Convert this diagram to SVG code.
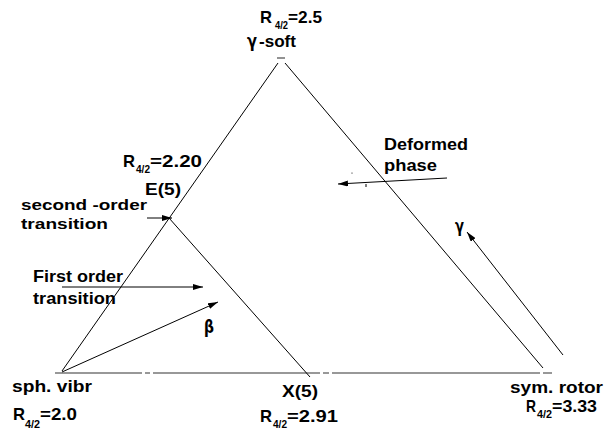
<svg xmlns="http://www.w3.org/2000/svg" width="605" height="431" viewBox="0 0 605 431">
<style>
text{font-family:"Liberation Sans",Arial,sans-serif;font-weight:bold;fill:#000;font-size:17px}
.sub{font-size:10px}
.sm{font-size:15.5px}
.gr{font-family:"DejaVu Sans","Liberation Sans",sans-serif}
.ln{stroke:#000;stroke-width:1;fill:none}
.base{stroke:#777;stroke-width:1.6;fill:none}
.arr{stroke:#000;stroke-width:1;fill:none;marker-end:url(#ah)}
</style>
<defs>
<marker id="ah" viewBox="0 0 10 6" refX="10" refY="3" markerWidth="10" markerHeight="6" markerUnits="userSpaceOnUse" orient="auto">
<path d="M0,0 L10,3 L0,6 Z" fill="#000"/>
</marker>
</defs>
<rect width="605" height="431" fill="#fff"/>
<g id="connectors">
<path class="base" d="M55,373H142 M145,373H150 M153,373H320 M323,373H329 M332,373H540 M543,373H552"/>
<path class="base" d="M277,58H285"/>
<path class="ln" d="M62,371 L278,63"/>
<path class="ln" d="M285,63 L543,368"/>
<path class="ln" d="M169,218 L310,377"/>
<path class="arr" d="M147,218 L172,218"/>
<path class="arr" d="M62,287 L203,287"/>
<path class="arr" d="M62,372 L218,302"/>
<path class="arr" d="M447,178 L338,184"/>
<path class="arr" d="M563,355 L467,232"/>
<path class="ln" d="M366,184V187"/>
<circle cx="352" cy="173" r="0.6" fill="#000"/>
<text class="gr" x="204" y="333" font-size="15" textLength="10" lengthAdjust="spacingAndGlyphs">β</text>
<text class="gr" x="455" y="232" font-size="14" textLength="9" lengthAdjust="spacingAndGlyphs">γ</text>
</g>
<g id="gamma-soft">
<text x="260" y="23" textLength="12" lengthAdjust="spacingAndGlyphs">R</text>
<text class="sub" x="275" y="29" textLength="13" lengthAdjust="spacingAndGlyphs">4/2</text>
<text x="288" y="23" textLength="34" lengthAdjust="spacingAndGlyphs">=2.5</text>
<text class="gr" x="247" y="47" font-size="16" textLength="10" lengthAdjust="spacingAndGlyphs">γ</text>
<text x="259" y="47" textLength="37" lengthAdjust="spacingAndGlyphs">-soft</text>
</g>
<g id="e5">
<text x="123" y="167" textLength="12" lengthAdjust="spacingAndGlyphs">R</text>
<text class="sub" x="136" y="173" textLength="14" lengthAdjust="spacingAndGlyphs">4/2</text>
<text x="150" y="167" textLength="52" lengthAdjust="spacingAndGlyphs">=2.20</text>
<text x="145" y="195" textLength="36" lengthAdjust="spacingAndGlyphs">E(5)</text>
</g>
<g id="second-order">
<text class="sm" x="21" y="210" textLength="126" lengthAdjust="spacingAndGlyphs">second -order</text>
<text class="sm" x="21" y="229" textLength="87" lengthAdjust="spacingAndGlyphs">transition</text>
</g>
<g id="first-order">
<text x="33" y="282" textLength="90" lengthAdjust="spacingAndGlyphs">First order</text>
<text x="33" y="304" textLength="83" lengthAdjust="spacingAndGlyphs">transition</text>
</g>
<g id="sph-vibr">
<text x="12" y="392" textLength="80" lengthAdjust="spacingAndGlyphs">sph. vibr</text>
<text x="13" y="420" textLength="12" lengthAdjust="spacingAndGlyphs">R</text>
<text class="sub" x="25" y="428" textLength="15" lengthAdjust="spacingAndGlyphs">4/2</text>
<text x="40" y="420" textLength="37" lengthAdjust="spacingAndGlyphs">=2.0</text>
</g>
<g id="x5">
<text x="282" y="397" textLength="36" lengthAdjust="spacingAndGlyphs">X(5)</text>
<text x="260" y="422" textLength="12" lengthAdjust="spacingAndGlyphs">R</text>
<text class="sub" x="273" y="428" textLength="14" lengthAdjust="spacingAndGlyphs">4/2</text>
<text x="287" y="422" textLength="51" lengthAdjust="spacingAndGlyphs">=2.91</text>
</g>
<g id="sym-rotor">
<text x="510" y="393" textLength="93" lengthAdjust="spacingAndGlyphs">sym. rotor</text>
<text x="526" y="412" textLength="10" lengthAdjust="spacingAndGlyphs">R</text>
<text class="sub" x="537" y="418" textLength="15" lengthAdjust="spacingAndGlyphs">4/2</text>
<text x="552" y="412" textLength="45" lengthAdjust="spacingAndGlyphs">=3.33</text>
</g>
<g id="deformed-phase">
<text x="384" y="150" textLength="84" lengthAdjust="spacingAndGlyphs">Deformed</text>
<text x="384" y="171" textLength="53" lengthAdjust="spacingAndGlyphs">phase</text>
</g>
</svg>
